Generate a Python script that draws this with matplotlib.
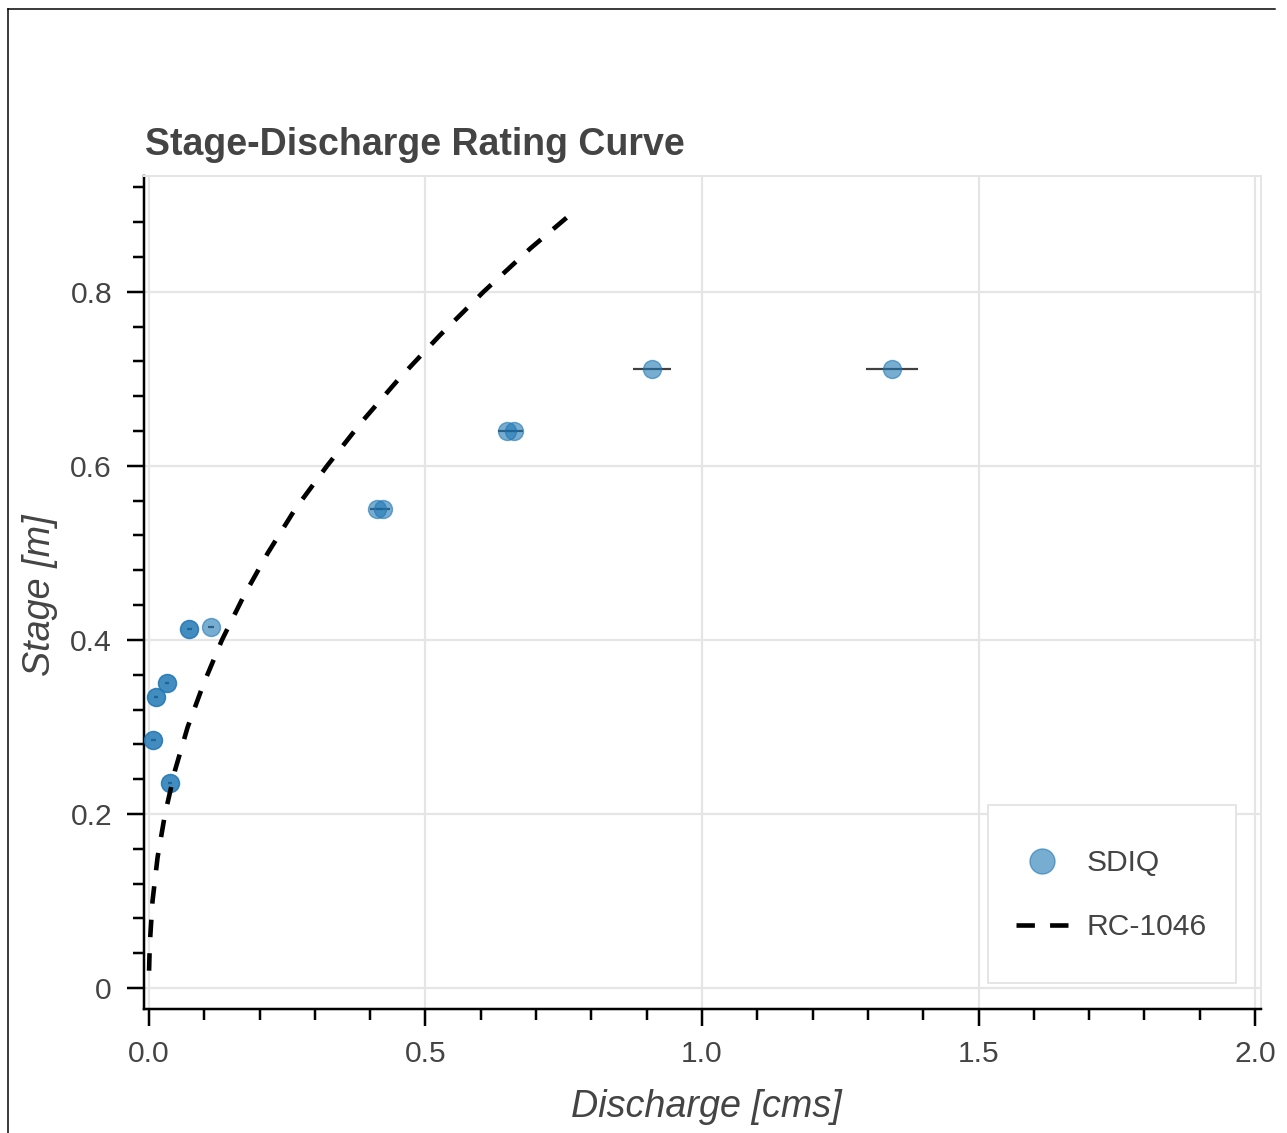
import matplotlib
matplotlib.use("Agg")
import matplotlib.pyplot as plt
from matplotlib.ticker import MultipleLocator, FuncFormatter
from matplotlib.lines import Line2D
from matplotlib.patches import Rectangle

plt.rcParams['font.family'] = ['Liberation Sans', 'DejaVu Sans']

# ---- data ----
sdiq_discharge = [0.0078, 0.0078, 0.0127, 0.0127, 0.0331, 0.0331, 0.038, 0.038,
                  0.0729, 0.0729, 0.112, 0.412, 0.423, 0.648, 0.660, 0.910, 1.344]
sdiq_stage = [0.285, 0.285, 0.335, 0.335, 0.350, 0.350, 0.236, 0.236,
              0.413, 0.413, 0.415, 0.551, 0.551, 0.640, 0.640, 0.711, 0.711]
sdiq_err = [0.004, 0.004, 0.004, 0.004, 0.004, 0.004, 0.004, 0.004,
            0.005, 0.005, 0.005, 0.012, 0.012, 0.017, 0.017, 0.034, 0.047]

rc_stage = [0.02, 0.05, 0.10, 0.15, 0.20, 0.25, 0.30, 0.35, 0.40, 0.45, 0.50,
            0.55, 0.60, 0.65, 0.70, 0.75, 0.80, 0.85, 0.892]
rc_discharge = [0.0002, 0.0014, 0.0064, 0.0155, 0.029, 0.047, 0.070, 0.099, 0.132,
                0.171, 0.215, 0.264, 0.322, 0.384, 0.452, 0.526, 0.605, 0.690, 0.768]

title = "Stage-Discharge Rating Curve"
xlabel = "Discharge [cms]"
ylabel = "Stage [m]"
series_names = ["SDIQ", "RC-1046"]

# ---- figure ----
W, H = 1287, 1133
fig = plt.figure(figsize=(W / 100, H / 100), dpi=100)
px = 72 / 100  # points per pixel

ax_l, ax_r, ax_t, ax_b = 144, 1261, 176, 1009
ax = fig.add_axes([ax_l / W, 1 - ax_b / H, (ax_r - ax_l) / W, (ax_b - ax_t) / H])
AW, AH = ax_r - ax_l, ax_b - ax_t


def axc(xp, yp):
    return (xp - ax_l) / AW, (ax_b - yp) / AH


blue = '#1f77b4'
grid_c = '#e5e5e5'
text_c = '#444444'

ax.errorbar(sdiq_discharge, sdiq_stage, xerr=sdiq_err, fmt='none',
            ecolor='black', elinewidth=2.2 * px, alpha=0.75, capsize=0, zorder=3)
ax.plot(sdiq_discharge, sdiq_stage, 'o', ms=18 * px, color=blue, mec=blue,
        alpha=0.6, zorder=4)
line, = ax.plot(rc_discharge, rc_stage, color='black', lw=4.6 * px, zorder=5,
                dash_capstyle='butt')
line.set_dashes([3.8, 3.5])

ax.set_xlim(-0.009, 2.0108)
ax.set_ylim(-0.024, 0.933)

ax.xaxis.set_major_locator(MultipleLocator(0.5))
ax.xaxis.set_minor_locator(MultipleLocator(0.1))
ax.yaxis.set_major_locator(MultipleLocator(0.2))
ax.yaxis.set_minor_locator(MultipleLocator(0.04))
ax.xaxis.set_major_formatter(FuncFormatter(lambda v, p: f"{v:.1f}"))
ax.yaxis.set_major_formatter(FuncFormatter(lambda v, p: "0" if abs(v) < 1e-9 else f"{v:.1f}"))

ax.grid(True, which='major', color=grid_c, lw=2.2 * px, zorder=0)
ax.set_axisbelow(True)

for s in ['top', 'right']:
    ax.spines[s].set_color(grid_c)
    ax.spines[s].set_linewidth(2 * px)
for s in ['left', 'bottom']:
    ax.spines[s].set_color('black')
    ax.spines[s].set_linewidth(2.5 * px)

ax.tick_params(which='major', direction='out', length=17 * px, width=2.5 * px,
               color='black', labelsize=30 * px, labelcolor=text_c)
ax.tick_params(which='minor', direction='out', length=11 * px, width=2.5 * px,
               color='black')
ax.tick_params(axis='y', which='major', pad=15 * px)
ax.tick_params(axis='x', which='major', pad=14 * px)
ax.tick_params(top=False, right=False, which='both')

ax.set_title(title, loc='left', fontsize=37.5 * px, fontweight='bold',
             color=text_c, pad=21 * px, x=0.001)

ax.set_xlabel(xlabel, fontsize=37.8 * px, style='italic', color=text_c,
              va='center')
ax.xaxis.set_label_coords(*axc(706, 1107))
ax.set_ylabel(ylabel, fontsize=37.8 * px, style='italic', color=text_c,
              va='center')
ax.yaxis.set_label_coords(*axc(40, 595))

# legend frame (drawn manually)
fx0, fy0 = axc(988, 983)
fx1, fy1 = axc(1236, 805)
ax.add_patch(Rectangle((fx0, fy0), fx1 - fx0, fy1 - fy0, transform=ax.transAxes,
                       facecolor='white', edgecolor=grid_c, lw=2 * px,
                       zorder=6, clip_on=False))

# legend entries
h1 = Line2D([], [], marker='o', ls='none', ms=25 * px, color=blue, mec=blue, alpha=0.6)
h2 = Line2D([], [], color='black', lw=4.6 * px, dash_capstyle='butt')
h2.set_dashes([4.0, 3.3])
leg_fs = 30 * px
leg = ax.legend([h1, h2], series_names, loc='upper left',
                bbox_to_anchor=axc(1016, 849),
                borderaxespad=0, borderpad=0, fontsize=leg_fs, frameon=False,
                labelspacing=1.2, handlelength=1.73, handletextpad=0.63)
leg.set_zorder(7)
for t in leg.get_texts():
    t.set_color(text_c)

# screenshot border
fig.add_artist(Line2D([8 / W, 1275 / W], [1 - 9 / H, 1 - 9 / H], transform=fig.transFigure,
                      color='black', lw=1.5 * px))
fig.add_artist(Line2D([8 / W, 8 / W], [1 - 9 / H, 0], transform=fig.transFigure,
                      color='black', lw=1.5 * px))

fig.savefig('out.png', dpi=100, facecolor='white')
